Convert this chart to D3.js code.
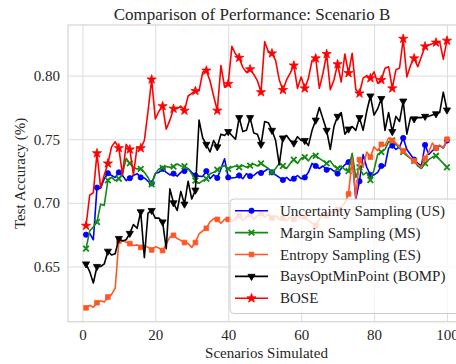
<!DOCTYPE html>
<html>
<head>
<meta charset="utf-8">
<script src="https://cdn.jsdelivr.net/npm/d3@7"></script>
<style>
  html, body { margin: 0; padding: 0; background: #ffffff; }
  svg { display: block; }
</style>
</head>
<body>
<div id="chart"></div>
<script>
// Test accuracy for each active-learning strategy after n simulated scenarios (n = 1..100)
const scenarios = d3.range(1, 101);

const usValues = [
  0.675, 0.676, 0.671, 0.712, 0.7115, 0.719, 0.7233, 0.7215, 0.720, 0.724,
  0.7215, 0.7175, 0.7194, 0.7215, 0.723, 0.720, 0.7196, 0.717, 0.7154, 0.723,
  0.724, 0.7267, 0.724, 0.722, 0.723, 0.721, 0.724, 0.725, 0.727, 0.724,
  0.7215, 0.721, 0.7207, 0.725, 0.719, 0.722, 0.7196, 0.7267, 0.7346, 0.720,
  0.7196, 0.720, 0.7215, 0.719, 0.723, 0.721, 0.7215, 0.724, 0.7235, 0.725,
  0.727, 0.724, 0.722, 0.720, 0.718, 0.720, 0.7175, 0.719, 0.7215, 0.719,
  0.720, 0.724, 0.731, 0.729, 0.727, 0.729, 0.726, 0.727, 0.725, 0.723,
  0.727, 0.730, 0.732, 0.736, 0.703, 0.717, 0.738, 0.728, 0.722, 0.722,
  0.724, 0.729, 0.729, 0.743, 0.745, 0.742, 0.744, 0.751, 0.742, 0.738,
  0.734, 0.731, 0.729, 0.7455, 0.738, 0.741, 0.743, 0.745, 0.743, 0.749
];

const msValues = [
  0.664, 0.678, 0.681, 0.685, 0.699, 0.698, 0.7178, 0.720, 0.7175, 0.719,
  0.7228, 0.735, 0.731, 0.728, 0.7267, 0.7267, 0.724, 0.720, 0.7145, 0.7228,
  0.7267, 0.7275, 0.7285, 0.728, 0.7285, 0.7306, 0.729, 0.7288, 0.7267, 0.7228,
  0.7175, 0.7154, 0.7175, 0.719, 0.7228, 0.724, 0.726, 0.728, 0.7293, 0.7267,
  0.728, 0.729, 0.728, 0.7293, 0.728, 0.7293, 0.7306, 0.729, 0.731, 0.729,
  0.727, 0.724, 0.727, 0.731, 0.729, 0.727, 0.731, 0.734, 0.731, 0.735,
  0.736, 0.733, 0.737, 0.737, 0.735, 0.733, 0.731, 0.733, 0.729, 0.727,
  0.729, 0.726, 0.725, 0.739, 0.720, 0.728, 0.722, 0.724, 0.718, 0.726,
  0.738, 0.740, 0.742, 0.748, 0.749, 0.746, 0.743, 0.740, 0.737, 0.735,
  0.733, 0.729, 0.727, 0.731, 0.734, 0.736, 0.737, 0.734, 0.731, 0.728
];

const esValues = [
  0.6175, 0.6195, 0.618, 0.6215, 0.623, 0.622, 0.626, 0.628, 0.633, 0.670,
  0.6705, 0.669, 0.668, 0.6665, 0.667, 0.665, 0.6665, 0.665, 0.663, 0.6655,
  0.6645, 0.6625, 0.668, 0.673, 0.6745, 0.672, 0.6705, 0.6688, 0.668, 0.665,
  0.6688, 0.6757, 0.678, 0.680, 0.685, 0.6875, 0.687, 0.684, 0.687, 0.687,
  0.685, 0.688, 0.690, 0.686, 0.689, 0.691, 0.687, 0.690, 0.692, 0.689,
  0.691, 0.688, 0.690, 0.687, 0.688, 0.686, 0.689, 0.687, 0.690, 0.688,
  0.689, 0.686, 0.684, 0.682, 0.687, 0.691, 0.690, 0.693, 0.692, 0.695,
  0.697, 0.700, 0.707, 0.735, 0.704, 0.734, 0.728, 0.740, 0.736, 0.744,
  0.741, 0.746, 0.745, 0.751, 0.749, 0.747, 0.744, 0.741, 0.738, 0.735,
  0.733, 0.730, 0.728, 0.735, 0.740, 0.747, 0.743, 0.7455, 0.743, 0.750
];

const bompValues = [
  0.652, 0.646, 0.637, 0.650, 0.650, 0.652, 0.662, 0.659, 0.660, 0.672,
  0.670, 0.671, 0.676, 0.683, 0.680, 0.693, 0.657, 0.692, 0.694, 0.688,
  0.688, 0.685, 0.664, 0.711, 0.700, 0.694, 0.709, 0.699, 0.717, 0.703,
  0.710, 0.765, 0.751, 0.746, 0.740, 0.749, 0.744, 0.754, 0.753, 0.756,
  0.753, 0.750, 0.767, 0.756, 0.757, 0.767, 0.755, 0.754, 0.746, 0.764,
  0.763, 0.757, 0.749, 0.730, 0.751, 0.753, 0.749, 0.747, 0.752, 0.749,
  0.749, 0.745, 0.757, 0.765, 0.775, 0.766, 0.757, 0.742, 0.760, 0.768,
  0.771, 0.754, 0.758, 0.760, 0.757, 0.767, 0.757, 0.772, 0.784, 0.769,
  0.774, 0.782, 0.757, 0.771, 0.756, 0.768, 0.764, 0.780, 0.754, 0.767,
  0.766, 0.767, 0.767, 0.768, 0.768, 0.769, 0.770, 0.771, 0.787, 0.773
];

const boseValues = [
  0.682, 0.706, 0.708, 0.739, 0.712, 0.722, 0.731, 0.744, 0.748, 0.743,
  0.722, 0.746, 0.742, 0.722, 0.744, 0.743, 0.749, 0.772, 0.797, 0.766,
  0.772, 0.776, 0.758, 0.765, 0.774, 0.774, 0.776, 0.7725, 0.784, 0.786,
  0.788, 0.788, 0.8026, 0.804, 0.796, 0.784, 0.7725, 0.808, 0.791, 0.7935,
  0.823, 0.817, 0.814, 0.8065, 0.8026, 0.805, 0.801, 0.796, 0.787, 0.8267,
  0.819, 0.8175, 0.812, 0.7966, 0.7887, 0.7966, 0.802, 0.808, 0.790, 0.799,
  0.790, 0.798, 0.812, 0.8136, 0.790, 0.802, 0.817, 0.789, 0.7966, 0.809,
  0.795, 0.817, 0.802, 0.8175, 0.789, 0.786, 0.798, 0.800, 0.798, 0.803,
  0.794, 0.7966, 0.8058, 0.807, 0.790, 0.8045, 0.806, 0.829, 0.799, 0.808,
  0.8136, 0.807, 0.815, 0.823, 0.824, 0.825, 0.826, 0.8267, 0.813, 0.8275
];

const xTicks = [0, 20, 40, 60, 80, 100];
const yTicks = [0.65, 0.70, 0.75, 0.80];

const seriesNames = [
  "Uncertainty Sampling (US)",
  "Margin Sampling (MS)",
  "Entropy Sampling (ES)",
  "BaysOptMinPoint (BOMP)",
  "BOSE"
];
const seriesValues = [usValues, msValues, esValues, bompValues, boseValues];
const seriesColors = ["#0000ff", "#138a13", "#ff5722", "#000000", "#ff0000"];
const seriesMarkers = ["circle", "x", "square", "triangleDown", "star"];

const SERIF = "'Liberation Serif'";
const W = 456, H = 364;
const plot = { left: 68, right: 465, top: 25, bottom: 321.7 };

const x = d3.scaleLinear().domain([-3.95, 104.95]).range([plot.left, plot.right]);
const y = d3.scaleLinear().domain([0.6066, 0.8398]).range([plot.bottom, plot.top]);

const svg = d3.select("#chart").append("svg")
  .attr("width", W).attr("height", H)
  .attr("viewBox", `0 0 ${W} ${H}`);

svg.append("rect").attr("width", W).attr("height", H).attr("fill", "#ffffff");

// grid lines
const gridColor = "#dcdcdc";
svg.append("g")
  .attr("transform", `translate(0,${plot.bottom})`)
  .call(d3.axisBottom(x).tickValues(xTicks).tickSize(-(plot.bottom - plot.top)).tickFormat(""))
  .call(g => g.select(".domain").remove())
  .call(g => g.selectAll("line").attr("stroke", gridColor).attr("stroke-width", 1));

svg.append("g")
  .attr("transform", `translate(${plot.left},0)`)
  .call(d3.axisLeft(y).tickValues(yTicks).tickSize(-(plot.right - plot.left)).tickFormat(""))
  .call(g => g.select(".domain").remove())
  .call(g => g.selectAll("line").attr("stroke", gridColor).attr("stroke-width", 1));

// frame
svg.append("rect")
  .attr("x", plot.left).attr("y", plot.top)
  .attr("width", plot.right - plot.left).attr("height", plot.bottom - plot.top)
  .attr("fill", "none").attr("stroke", "#d4d4d4").attr("stroke-width", 1.2);

// tick labels
const tickFont = 15;
const xAxis = svg.append("g")
  .attr("transform", `translate(0,${plot.bottom})`)
  .call(d3.axisBottom(x).tickValues(xTicks).tickSize(0).tickPadding(8).tickFormat(d3.format("d")));
xAxis.attr("font-family", null);
xAxis.select(".domain").remove();
xAxis.selectAll("text")
  .style("font-family", SERIF)
  .style("font-size", tickFont + "px")
  .attr("fill", "#262626");

const yAxis = svg.append("g")
  .attr("transform", `translate(${plot.left},0)`)
  .call(d3.axisLeft(y).tickValues(yTicks).tickSize(0).tickPadding(8).tickFormat(d3.format(".2f")));
yAxis.attr("font-family", null);
yAxis.select(".domain").remove();
yAxis.selectAll("text")
  .style("font-family", SERIF)
  .style("font-size", tickFont + "px")
  .attr("fill", "#262626");

// marker shapes
function markerPath(kind) {
  switch (kind) {
    case "circle": return d3.symbol(d3.symbolCircle, 22)();
    case "square": return d3.symbol(d3.symbolSquare, 22)();
    case "star": return d3.symbol(d3.symbolStar, 26)();
    case "triangleDown": return d3.symbol(d3.symbolTriangle, 22)();
    case "x": { const r = 2.8; return `M${-r},${-r}L${r},${r}M${-r},${r}L${r},${-r}`; }
  }
}

const line = d3.line()
  .x(d => x(d.n))
  .y(d => y(d.v));

const dataLayer = svg.append("g");

seriesValues.forEach((vals, si) => {
  const pts = scenarios.map((n, i) => ({ n, v: vals[i] }));
  const color = seriesColors[si];
  const g = dataLayer.append("g");
  g.append("path")
    .datum(pts)
    .attr("d", line)
    .attr("fill", "none")
    .attr("stroke", color)
    .attr("stroke-width", 1.6)
    .attr("stroke-linejoin", "round");
  const marked = pts.filter((d, i) => i % 3 === 0);
  const kind = seriesMarkers[si];
  g.selectAll("path.mk")
    .data(marked)
    .join("path")
    .attr("class", "mk")
    .attr("d", markerPath(kind))
    .attr("transform", d => `translate(${x(d.n)},${y(d.v)})` + (kind === "triangleDown" ? " rotate(180)" : ""))
    .attr("fill", kind === "x" ? "none" : color)
    .attr("stroke", color)
    .attr("stroke-width", kind === "x" ? 1.8 : 0.8);
});

// legend
const legend = svg.append("g");
const lg = { x: 230, y: 199, w: 250, h: 114.5 };
legend.append("rect")
  .attr("x", lg.x).attr("y", lg.y)
  .attr("width", lg.w).attr("height", lg.h)
  .attr("rx", 4)
  .attr("fill", "#ffffff").attr("fill-opacity", 0.8)
  .attr("stroke", "#cccccc").attr("stroke-width", 1);

seriesNames.forEach((name, si) => {
  const cy = 210.7 + si * 21.9;
  const color = seriesColors[si];
  const kind = seriesMarkers[si];
  legend.append("line")
    .attr("x1", 235).attr("x2", 268).attr("y1", cy).attr("y2", cy)
    .attr("stroke", color).attr("stroke-width", 1.6);
  legend.append("path")
    .attr("d", markerPath(kind))
    .attr("transform", `translate(251.5,${cy})` + (kind === "triangleDown" ? " rotate(180)" : ""))
    .attr("fill", kind === "x" ? "none" : color)
    .attr("stroke", color)
    .attr("stroke-width", kind === "x" ? 1.8 : 0.8);
  legend.append("text")
    .attr("x", 280).attr("y", cy + 5)
    .style("font-family", SERIF)
    .style("font-size", "15px")
    .attr("fill", "#262626")
    .text(name);
});

// title and axis labels
svg.append("text")
  .attr("x", 252).attr("y", 20)
  .attr("text-anchor", "middle")
  .style("font-family", SERIF)
  .style("font-size", "17px")
  .attr("fill", "#262626")
  .text("Comparison of Performance: Scenario B");

svg.append("text")
  .attr("x", 266.5).attr("y", 358)
  .attr("text-anchor", "middle")
  .style("font-family", SERIF)
  .style("font-size", "15px")
  .attr("fill", "#262626")
  .text("Scenarios Simulated");

svg.append("text")
  .attr("transform", `translate(25,${(plot.top + plot.bottom) / 2}) rotate(-90)`)
  .attr("text-anchor", "middle")
  .style("font-family", SERIF)
  .style("font-size", "15px")
  .attr("fill", "#262626")
  .text("Test Accuracy (%)");
</script>
</body>
</html>
